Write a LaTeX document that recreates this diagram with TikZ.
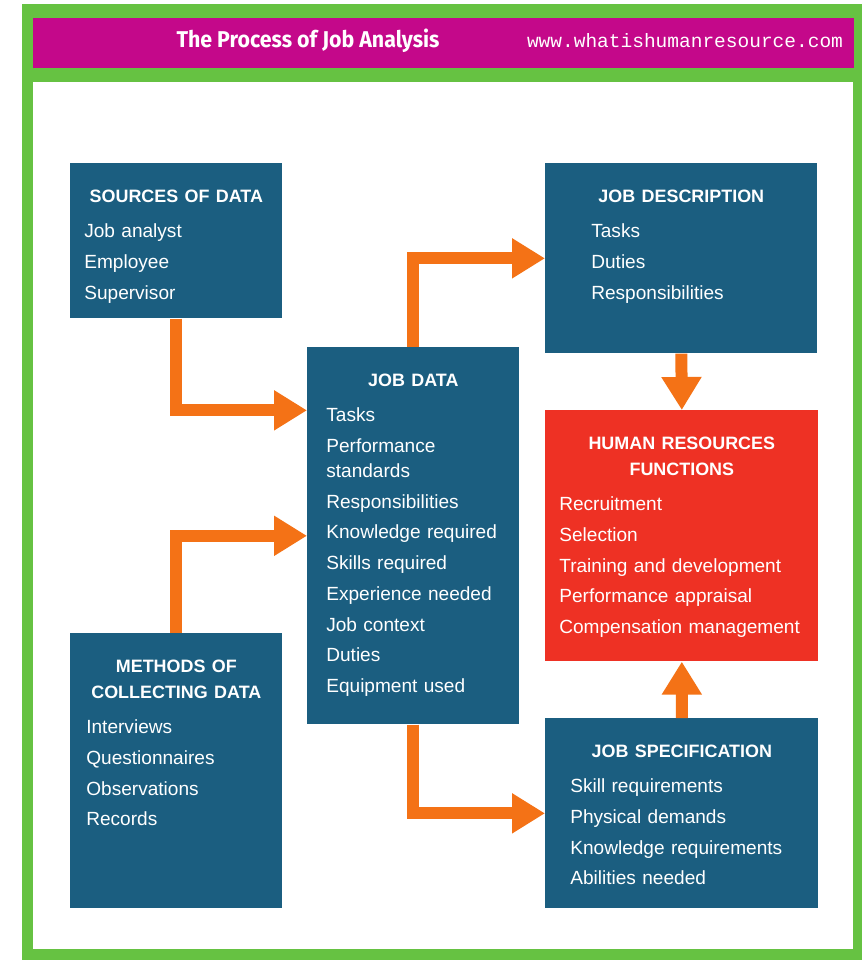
\documentclass[tikz,border=0pt]{standalone}
\usepackage{fontspec}
\setmainfont{Liberation Sans}
\newfontfamily\webfont{Liberation Mono}
\newfontfamily\headfont{Fira Sans}
\usepackage{xcolor}
\usetikzlibrary{arrows.meta}

\definecolor{framegreen}{RGB}{102,194,66}
\definecolor{bannerpink}{RGB}{196,8,138}
\definecolor{boxblue}{RGB}{27,94,128}
\definecolor{hrred}{RGB}{238,49,36}
\definecolor{floworange}{RGB}{244,114,22}

\newcommand{\boxhead}[1]{{\centering\bfseries\fontsize{10.2}{14.8}\selectfont #1\par}\vspace{2.6pt}}

\begin{document}
\begin{tikzpicture}[x=0.02cm,y=-0.02cm,
    base/.style={fill=boxblue,text=white,anchor=north west,inner ysep=0pt,
        text height=0.78cm,align=left,font=\fontsize{10.85}{17.5}\selectfont},
    flow/.style={draw=floworange,line width=0.24cm,line join=miter,
        -{Triangle[width=0.76cm,length=0.66cm]}}]

    \useasboundingbox (0,0) rectangle (862,960);
    \fill[framegreen] (22,4) rectangle (862,960);
    \fill[white] (33,82) rectangle (853,949);
    \fill[bannerpink] (33,18) rectangle (854,68);

    \node[text=white,anchor=base,font=\headfont\bfseries\fontsize{13}{15}\selectfont] (title) at (308,48)
    {
        \resizebox{5.26cm}{\height}{The Process of Job Analysis}
    };
    \node[text=white,anchor=base,font=\webfont\fontsize{11}{13}\selectfont] (web) at (685,47)
    {
        \resizebox{6.32cm}{\height}{www.whatishumanresource.com}
    };

    \node[base,inner xsep=0.28cm,text width=3.68cm,text depth=2.32cm] (src) at (70,163)
    {
        \boxhead{SOURCES OF DATA}
        Job analyst\\
        Employee\\
        Supervisor
    };
    \node[base,inner xsep=0.32cm,text width=3.6cm,text depth=4.72cm] (mth) at (70,633)
    {
        \boxhead{METHODS OF\\COLLECTING DATA}
        Interviews\\
        Questionnaires\\
        Observations\\
        Records
    };
    \node[base,inner xsep=0.38cm,text width=3.48cm,text depth=6.76cm] (jd) at (307,347)
    {
        \boxhead{JOB DATA}
        Tasks\\
        Performance\\[-3.3pt]standards\\
        Responsibilities\\
        Knowledge required\\
        Skills required\\
        Experience needed\\
        Job context\\
        Duties\\
        Equipment used
    };
    \node[base,inner xsep=0.92cm,text width=3.6cm,text depth=3.02cm] (desc) at (545,163)
    {
        \boxhead{JOB DESCRIPTION}
        Tasks\\
        Duties\\
        Responsibilities
    };
    \node[base,fill=hrred,inner xsep=0.28cm,text width=4.9cm,text depth=4.24cm] (hr) at (545,410)
    {
        \boxhead{HUMAN RESOURCES\\FUNCTIONS}
        Recruitment\\
        Selection\\
        Training and development\\
        Performance appraisal\\
        Compensation management
    };
    \node[base,inner xsep=0.5cm,text width=4.46cm,text depth=3.02cm] (spec) at (545,718)
    {
        \boxhead{JOB SPECIFICATION}
        Skill requirements\\
        Physical demands\\
        Knowledge requirements\\
        Abilities needed
    };

    \draw[flow] (src.south) |- ([yshift=2.51cm]jd.west);
    \draw[flow] (mth.north) |- (jd.west);
    \draw[flow] (jd.north) |- (desc.west);
    \draw[flow] (jd.south) |- (spec.west);
    \draw[flow] (desc.south) -- (hr.north);
    \draw[flow] (spec.north) -- (hr.south);
\end{tikzpicture}
\end{document}
